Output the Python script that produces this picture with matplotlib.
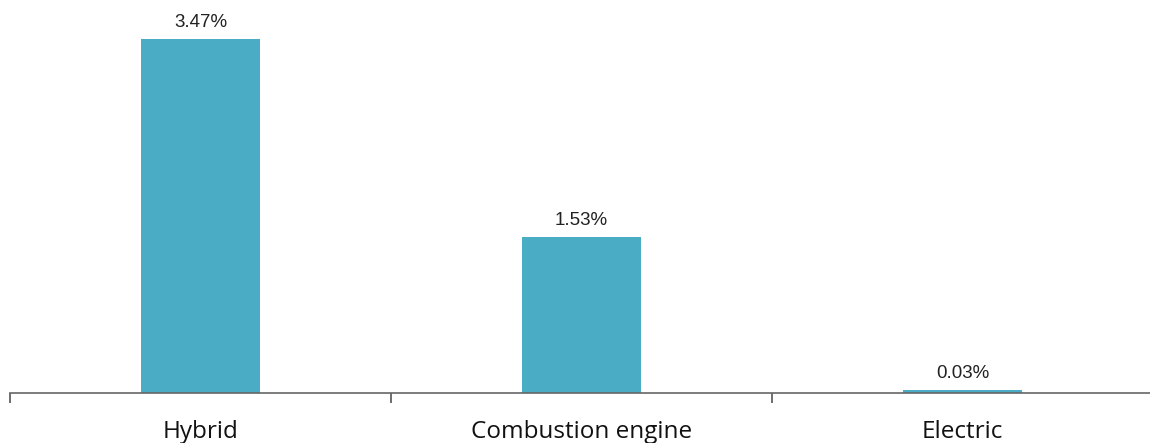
import numpy as np
import matplotlib
matplotlib.use("Agg")
import matplotlib.pyplot as plt

categories = ["Hybrid", "Combustion engine", "Electric"]
shares = [3.47, 1.53, 0.03]
value_labels = ["3.47%", "1.53%", "0.03%"]

W, H = 1150, 443
fig = plt.figure(figsize=(W / 100, H / 100), dpi=100)
ax = fig.add_axes([10 / W, (H - 393) / H, 1143 / W, 393 / H])

x = np.arange(len(categories))
bars = ax.bar(x, shares, width=0.31, color="#4BACC6", zorder=2)

for b, lab in zip(bars, value_labels):
    ax.annotate(lab, (b.get_x() + b.get_width() / 2, b.get_height()),
                xytext=(0, 5.5), textcoords="offset points",
                ha="center", va="bottom", fontsize=13.5,
                family="Liberation Sans", color="#222222")

ax.set_xlim(-0.5, 2.5)
ax.set_ylim(0, 3.85)
ax.set_xticks([-0.5, 0.5, 1.5, 2.5])
ax.set_xticklabels([])
ax.set_xticks(x, minor=True)
ax.set_xticklabels(categories, minor=True, fontsize=17.5, family="Open Sans", color="#111111")
ax.tick_params(axis="x", which="major", length=7, width=1.2, color="#555555")
ax.tick_params(axis="x", which="minor", length=0, pad=19.5)
ax.set_yticks([])
for s in ["top", "right", "left"]:
    ax.spines[s].set_visible(False)
ax.spines["bottom"].set_color("#666666")
ax.spines["bottom"].set_linewidth(1.2)

fig.savefig("out.png", dpi=100)
